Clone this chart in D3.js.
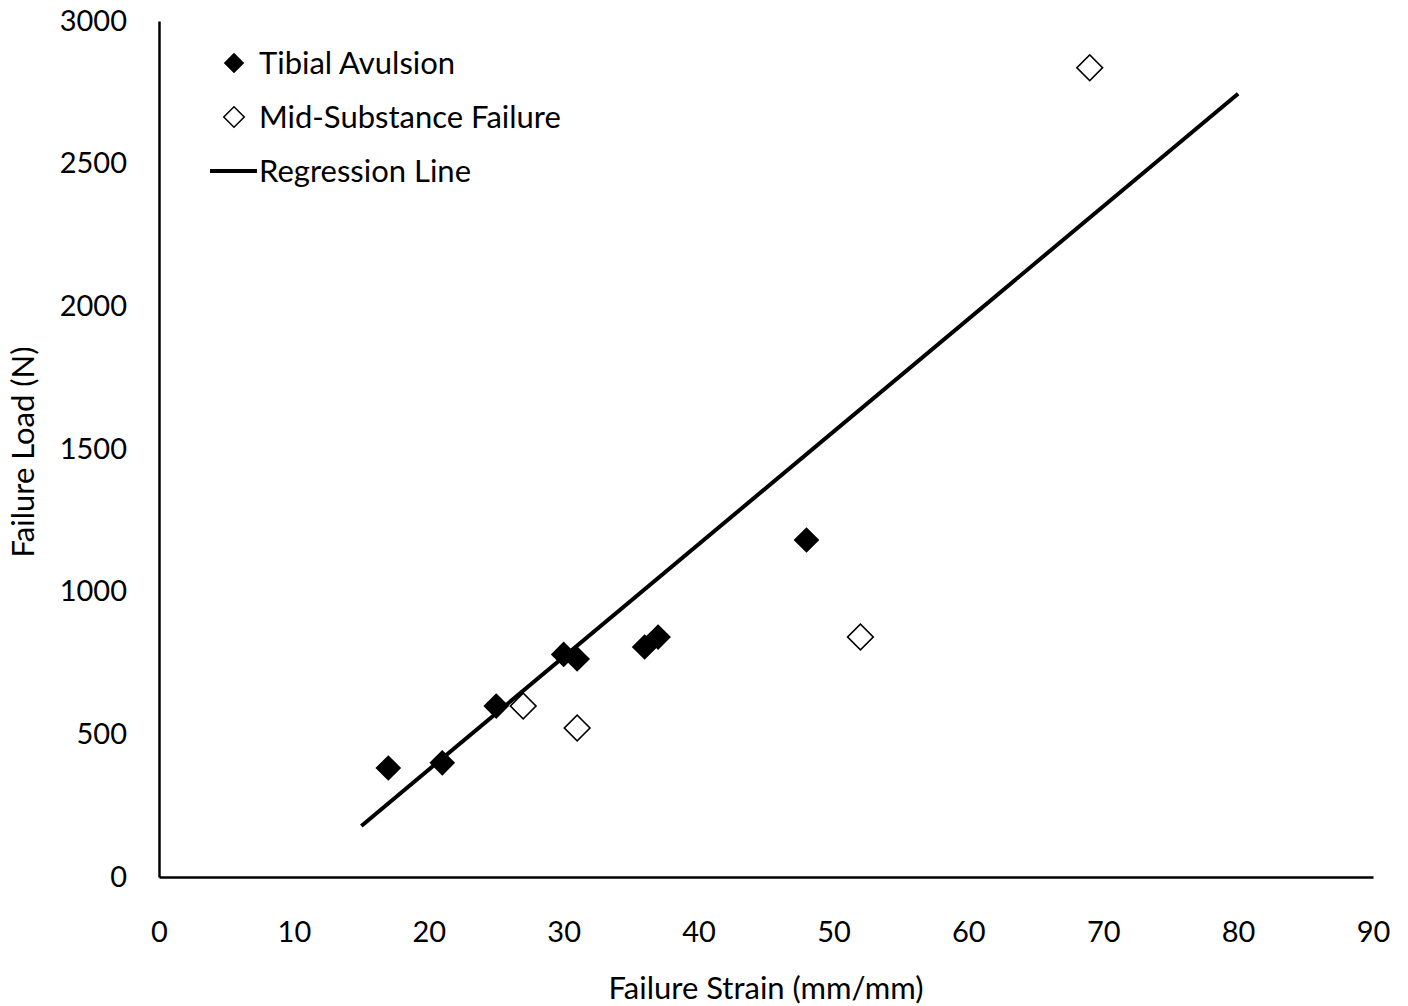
<!DOCTYPE html>
<html>
<head>
<meta charset="utf-8">
<script src="https://cdn.jsdelivr.net/npm/d3@7.9.0/dist/d3.min.js"></script>
<style>
  body { margin: 0; background: #fff; }
  svg text { font-family: Lato, "Open Sans", sans-serif; fill: #000; }
</style>
</head>
<body>
<svg id="chart" width="1408" height="1006"></svg>
<script>
// data
const tibialStrain = [17, 21, 25, 30, 31, 36, 37, 48];
const tibialLoad = [382, 400, 599, 780, 764, 806, 841, 1181];
const midStrain = [27, 31, 52, 69];
const midLoad = [599, 522, 841, 2836];
const regStrain = [15, 80];
const regLoad = [179, 2745];
const xTicks = [0, 10, 20, 30, 40, 50, 60, 70, 80, 90];
const yTicks = [0, 500, 1000, 1500, 2000, 2500, 3000];

const margin = { top: 21, right: 35, bottom: 129, left: 159 };
const width = 1408, height = 1006;
const tickSize = 29, textSize = 31;

const svg = d3.select('#chart');

const x = d3.scaleLinear().domain([0, 90]).range([margin.left, width - margin.right]);
const y = d3.scaleLinear().domain([0, 3000]).range([height - margin.bottom, margin.top]);

// axes, no tick marks
svg.append('g')
  .attr('transform', `translate(0,${y(0)})`)
  .call(d3.axisBottom(x).tickValues(xTicks).tickFormat(d3.format('d')).tickSize(0).tickPadding(44))
  .call(g => g.select('.domain').attr('stroke', '#000').attr('stroke-width', 2.5))
  .call(g => g.selectAll('text').attr('font-size', tickSize).attr('font-family', 'Lato'));

svg.append('g')
  .attr('transform', `translate(${x(0)},0)`)
  .call(d3.axisLeft(y).tickValues(yTicks).tickFormat(d3.format('d')).tickSize(0).tickPadding(32))
  .call(g => g.select('.domain').attr('stroke', '#000').attr('stroke-width', 2.5))
  .call(g => g.selectAll('text').attr('font-size', tickSize).attr('font-family', 'Lato'));

// axis titles
svg.append('text')
  .attr('x', (x(0) + x(90)) / 2)
  .attr('y', 999)
  .attr('text-anchor', 'middle')
  .attr('font-size', textSize)
  .text('Failure Strain (mm/mm)');

svg.append('text')
  .attr('transform', `translate(34,${(y(0) + y(3000)) / 2 + 3}) rotate(-90)`)
  .attr('text-anchor', 'middle')
  .attr('font-size', textSize)
  .text('Failure Load (N)');

// regression line
const line = d3.line().x(d => x(d[0])).y(d => y(d[1]));
svg.append('path')
  .datum(d3.zip(regStrain, regLoad))
  .attr('d', line)
  .attr('fill', 'none')
  .attr('stroke', '#000')
  .attr('stroke-width', 4);

const diamond = d3.symbol().type(d3.symbolSquare).size(330);

svg.append('g')
  .selectAll('path')
  .data(d3.zip(midStrain, midLoad))
  .join('path')
  .attr('d', diamond)
  .attr('transform', d => `translate(${x(d[0])},${y(d[1])}) rotate(45)`)
  .attr('fill', '#fff')
  .attr('stroke', '#000')
  .attr('stroke-width', 1.6);

svg.append('g')
  .selectAll('path')
  .data(d3.zip(tibialStrain, tibialLoad))
  .join('path')
  .attr('d', diamond)
  .attr('transform', d => `translate(${x(d[0])},${y(d[1])}) rotate(45)`)
  .attr('fill', '#000');

// legend
const legend = svg.append('g');
const legendSymbol = d3.symbol().type(d3.symbolSquare).size(210);
legend.append('path')
  .attr('d', legendSymbol)
  .attr('transform', 'translate(234,63) rotate(45)')
  .attr('fill', '#000');
legend.append('text').attr('x', 259).attr('y', 63).attr('dy', '0.35em')
  .attr('font-size', textSize).text('Tibial Avulsion');

legend.append('path')
  .attr('d', legendSymbol)
  .attr('transform', 'translate(234,117) rotate(45)')
  .attr('fill', '#fff').attr('stroke', '#000').attr('stroke-width', 1.5);
legend.append('text').attr('x', 259).attr('y', 117).attr('dy', '0.35em')
  .attr('font-size', textSize).text('Mid-Substance Failure');

legend.append('line')
  .attr('x1', 210).attr('x2', 257).attr('y1', 171).attr('y2', 171)
  .attr('stroke', '#000').attr('stroke-width', 4);
legend.append('text').attr('x', 259).attr('y', 171).attr('dy', '0.35em')
  .attr('font-size', textSize).text('Regression Line');
</script>
</body>
</html>
